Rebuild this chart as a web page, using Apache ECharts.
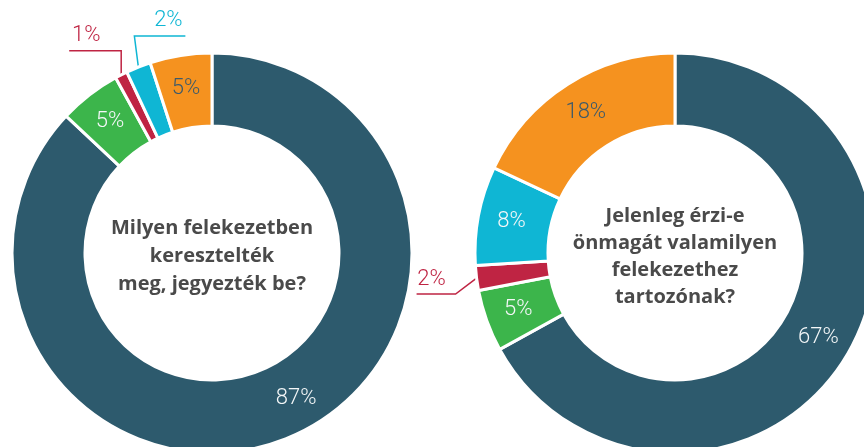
<!DOCTYPE html>
<html>
<head>
<meta charset="utf-8">
<script src="https://cdn.jsdelivr.net/npm/echarts@6/dist/echarts.min.js"></script>
<style>
  html, body { margin: 0; padding: 0; background: #fff; }
  #chart { width: 864px; height: 447px; }
</style>
</head>
<body>
<div id="chart"></div>
<script>
// Category names (slice order, clockwise from 12 o'clock)
const categories = ['a', 'b', 'c', 'd', 'e'];
const colors = ['#2d5a6d', '#3cb54b', '#bf2443', '#0fb6d4', '#f5921f'];

// Left donut: baptism / registration
const baptismValues = [87, 5, 1, 2, 5];
const baptismQuestion = 'Milyen felekezetben\nkeresztelték\nmeg, jegyezték be?';

// Right donut: current affiliation
const belongValues = [67, 5, 2, 8, 18];
const belongQuestion = 'Jelenleg érzi-e\nönmagát valamilyen\nfelekezethez\ntartozónak?';

// Slices too thin for an inside label get an outside callout
const outsideLimit = 3;

const labelFont = 'Roboto';
const inkOnLight = '#3d5a6a';

function buildData(values) {
  return values.map(function (v, i) {
    const outside = v < outsideLimit;
    return {
      name: categories[i],
      value: v,
      itemStyle: { color: colors[i] },
      label: {
        position: outside ? 'outside' : 'inside',
        color: outside ? colors[i] : (i === 4 ? inkOnLight : '#f4f7f8')
      },
      labelLine: {
        show: outside,
        lineStyle: { color: colors[i], width: 1.5 }
      }
    };
  });
}

// Label placement per slice index.
// Callouts: { line: [dx1, dy1, dx2], text: [dx from bend, gap above line] }
// Nudges:   { nudge: [dx, dy] }
function labelPlacer(rules) {
  return function (params) {
    const r = rules[params.dataIndex];
    if (!r) return {};
    if (r.nudge) return { dx: r.nudge[0], dy: r.nudge[1] };
    if (!params.labelLinePoints) return {};
    const p0 = params.labelLinePoints[0];
    const p1 = [p0[0] + r.line[0], p0[1] + r.line[1]];
    const p2 = [p1[0] + r.line[2], p1[1]];
    return {
      x: p1[0] + r.text[0],
      y: p1[1] - r.text[1],
      align: 'center',
      verticalAlign: 'bottom',
      labelLinePoints: [p0, p1, p2]
    };
  };
}

function donut(values, cx, rules) {
  return {
    type: 'pie',
    center: [cx, 253],
    radius: [127, 200],
    startAngle: 90,
    clockwise: true,
    avoidLabelOverlap: false,
    minShowLabelAngle: 0,
    animation: false,
    itemStyle: { borderColor: '#ffffff', borderWidth: 3 },
    label: {
      show: true,
      formatter: '{c}%',
      fontFamily: labelFont,
      fontWeight: 300,
      fontSize: 22
    },
    labelLine: { show: false, smooth: false, length: 10, length2: 10 },
    emphasis: { disabled: true },
    labelLayout: labelPlacer(rules),
    data: buildData(values)
  };
}

const chart = echarts.init(document.getElementById('chart'), null, { renderer: 'canvas' });

const questionStyle = {
  align: 'center', verticalAlign: 'middle',
  fontFamily: 'Open Sans', fontWeight: 'bold', fontSize: 20,
  lineHeight: 27, fill: '#4a4a4a'
};

chart.setOption({
  backgroundColor: '#ffffff',
  series: [
    donut(baptismValues, 212, {
      0: { nudge: [18, -7] },
      2: { line: [0, -24, -52], text: [-35, 4] },
      3: { line: [-4, -31, 51], text: [34, 5] }
    }),
    donut(belongValues, 675, {
      2: { line: [-21, 16, -39], text: [-24, 4] }
    })
  ],
  graphic: [
    {
      type: 'text',
      x: 212, y: 256,
      style: Object.assign({ text: baptismQuestion }, questionStyle, { lineHeight: 28 })
    },
    {
      type: 'text',
      x: 675, y: 257,
      style: Object.assign({ text: belongQuestion }, questionStyle)
    }
  ]
});
</script>
</body>
</html>
